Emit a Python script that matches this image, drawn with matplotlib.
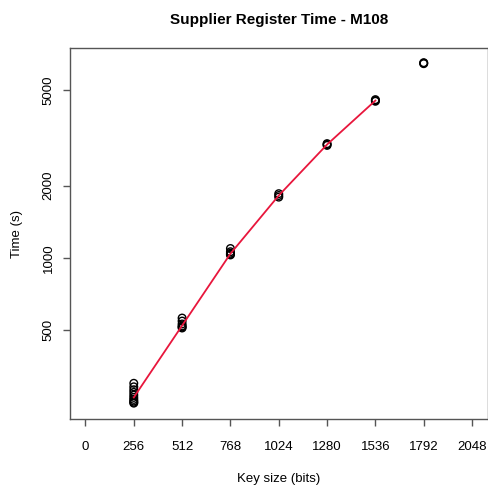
import matplotlib
matplotlib.use("Agg")
import matplotlib.pyplot as plt
import numpy as np

plt.rcParams['font.family'] = ['Liberation Sans', 'DejaVu Sans']

# Observed points (key size, time in seconds)
x_256 = [256] * 10
t_256 = [300, 290, 282, 275, 268, 262, 257, 253, 250, 248]
x_512 = [512] * 6
t_512 = [561, 545, 530, 520, 515, 510]
x_768 = [768] * 5
t_768 = [1093, 1060, 1045, 1035, 1028]
x_1024 = [1024] * 3
t_1024 = [1850, 1818, 1790]
x_1280 = [1280] * 3
t_1280 = [2990, 2965, 2940]
x_1536 = [1536] * 3
t_1536 = [4560, 4520, 4490]
x_1792 = [1792] * 3
t_1792 = [6500, 6470, 6440]

# Mean line
line_x = [256, 512, 768, 1024, 1280, 1536]
line_t = [262, 522, 1040, 1818, 2965, 4520]

xticks = [0, 256, 512, 768, 1024, 1280, 1536, 1792, 2048]
yticks = [500, 1000, 2000, 5000]

fig = plt.figure(figsize=(4.88, 4.88), dpi=100)
ax = fig.add_axes([70/488, 1 - 419/488, (487.5 - 70)/488, (419 - 48)/488])

all_x = x_256 + x_512 + x_768 + x_1024 + x_1280 + x_1536 + x_1792
all_t = t_256 + t_512 + t_768 + t_1024 + t_1280 + t_1536 + t_1792
ax.scatter(all_x, all_t, s=30, facecolors='none', edgecolors='black', linewidths=1.0, zorder=2)
ax.plot(line_x, line_t, color='#E8163C', linewidth=1.3, zorder=3)

ax.set_yscale('log')
ax.set_xlim(-0.04 * 2048, 1.04 * 2048)
ax.set_ylim(213, 7484)
ax.set_xticks(xticks)
ax.set_xticklabels([str(v) for v in xticks])
ax.set_yticks(yticks)
ax.set_yticklabels([str(v) for v in yticks], rotation=90, va='center')
ax.yaxis.set_minor_locator(matplotlib.ticker.NullLocator())

for s in ax.spines.values():
    s.set_color('#555555')
    s.set_linewidth(1.0)
ax.tick_params(axis='both', length=5, width=1, color='#555555', labelsize=9.5)
ax.tick_params(axis='x', pad=10.5)
ax.tick_params(axis='y', pad=6)

ax.set_title('Supplier Register Time - M108', fontsize=11, fontweight='bold', pad=17)
ax.set_xlabel('Key size (bits)', fontsize=9.5, labelpad=15)
ax.set_ylabel('Time (s)', fontsize=9.5, labelpad=14)

fig.savefig('out.png', dpi=100)
